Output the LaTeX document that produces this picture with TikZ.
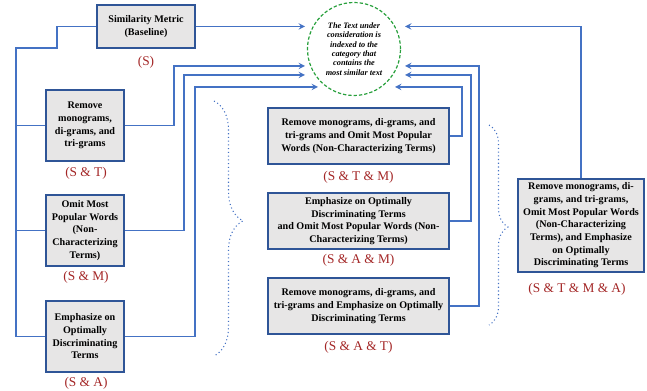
\documentclass[tikz,border=0pt]{standalone}
\usepackage{fontspec}
\setmainfont{Liberation Serif}
\usetikzlibrary{decorations.pathreplacing,calc}
\definecolor{boxfill}{RGB}{231,230,230}
\definecolor{boxline}{RGB}{47,85,151}
\definecolor{wireblue}{RGB}{68,114,196}
\definecolor{tagred}{RGB}{163,38,38}
\definecolor{ringgreen}{RGB}{40,160,60}
\tikzset{
  method/.style={draw=boxline, line width=1.1pt, fill=boxfill, align=center, inner sep=1pt, font=\fontsize{7.6}{9.5}\selectfont\bfseries},
  wire/.style={draw=wireblue, line width=1.1pt},
  tag/.style={text=tagred, font=\fontsize{10}{12}\selectfont, inner sep=0pt},
  curly/.style={draw=wireblue, dotted, thick, decorate, decoration={brace, amplitude=#1}},
}
\begin{document}
\begin{tikzpicture}[x=0.75pt, y=-0.75pt, >=stealth, line join=miter]
\useasboundingbox (0,0) rectangle (647,391);
% target
\node[circle, draw=ringgreen, dash pattern=on 2.5pt off 1.5pt, line width=0.9pt, minimum size=69.75pt, inner sep=0pt, align=center, font=\fontsize{6.2}{7}\selectfont\bfseries\itshape] (crc) at (354,49) {The Text under\\consideration is\\indexed to the\\category that\\contains the\\most similar text};
% single methods
\node[method, minimum width=73.5pt, minimum height=32.25pt] (base) at (146,26.5) {Similarity Metric\\(Baseline)};
\node[method, minimum width=58.5pt, minimum height=53.25pt] (st) at (85,125.5) {Remove\\monograms,\\di-grams, and\\tri-grams};
\node[method, minimum width=58.5pt, minimum height=53.25pt] (sm) at (85,230.5) {Omit Most\\Popular Words\\(Non-\\Characterizing\\Terms)};
\node[method, minimum width=58.5pt, minimum height=53.25pt] (sa) at (85,336.5) {Emphasize on\\Optimally\\Discriminating\\Terms};
% pairs
\node[method, minimum width=135.75pt, minimum height=42pt] (stm) at (358.5,136) {Remove monograms, di-grams, and\\tri-grams and Omit Most Popular\\Words (Non-Characterizing Terms)};
\node[method, minimum width=135.75pt, minimum height=42pt] (sam) at (358.5,221) {Emphasize on Optimally\\Discriminating Terms\\and Omit Most Popular Words (Non-\\Characterizing Terms)};
\node[method, minimum width=135.75pt, minimum height=42pt] (sat) at (358.5,306) {Remove monograms, di-grams, and\\tri-grams and Emphasize on Optimally\\Discriminating Terms};
% all
\node[method, minimum width=94.5pt, minimum height=69.75pt] (stma) at (581,225.5) {Remove monograms, di-\\grams, and tri-grams,\\Omit Most Popular Words\\(Non-Characterizing\\Terms), and Emphasize\\on Optimally\\Discriminating Terms};
% tags
\node[tag] (tS) at (146,62) {(S)};
\node[tag] (tST) at (86,173) {(S \& T)};
\node[tag] (tSM) at (86,277) {(S \& M)};
\node[tag] (tSA) at (86,383) {(S \& A)};
\node[tag] (tSTM) at (358.5,177) {(S \& T \& M)};
\node[tag] (tSAM) at (358.5,260) {(S \& A \& M)};
\node[tag] (tSAT) at (358.5,347) {(S \& A \& T)};
\node[tag] (tSTMA) at (577,289) {(S \& T \& M \& A)};
% left bus
\coordinate (jog) at (57,48);
\coordinate (bus) at (16,48);
\draw[wire] (base.west) -| (jog) -- (bus) |- (sa.west);
\draw[wire] (bus |- st.west) -- (st.west);
\draw[wire] (bus |- sm.west) -- (sm.west);
% arrow ends
\coordinate (inL) at (305,0);
\coordinate (inLb) at (318,0);
\coordinate (inR) at (405,0);
\coordinate (inRb) at (395,0);
% into the circle from the left
\draw[wire,->] (base.east) -- (base.east -| inL);
\coordinate (upT) at (174,66);
\coordinate (upM) at (184,75);
\coordinate (upA) at (195,87);
\draw[wire,->] (st.east) -| (upT) -- (upT -| inL);
\draw[wire,->] (sm.east) -| (upM) -- (upM -| inL);
\draw[wire,->] (sa.east) -| (upA) -- (upA -| inLb);
% into the circle from the right
\coordinate (dnTM) at (462,87);
\coordinate (dnAM) at (471,75);
\coordinate (dnAT) at (479,66);
\draw[wire,->] (stm.east) -| (dnTM) -- (dnTM -| inRb);
\draw[wire,->] (sam.east) -| (dnAM) -- (dnAM -| inR);
\draw[wire,->] (sat.east) -| (dnAT) -- (dnAT -| inR);
\draw[wire,->] (stma.north) |- (base.east -| inR);
% braces
\draw[curly=21.75pt, decoration={aspect=0.47}] (214,101) -- (214,356);
\draw[curly=14.25pt, decoration={aspect=0.51}] (489,125) -- (489,325);
\end{tikzpicture}
\end{document}
